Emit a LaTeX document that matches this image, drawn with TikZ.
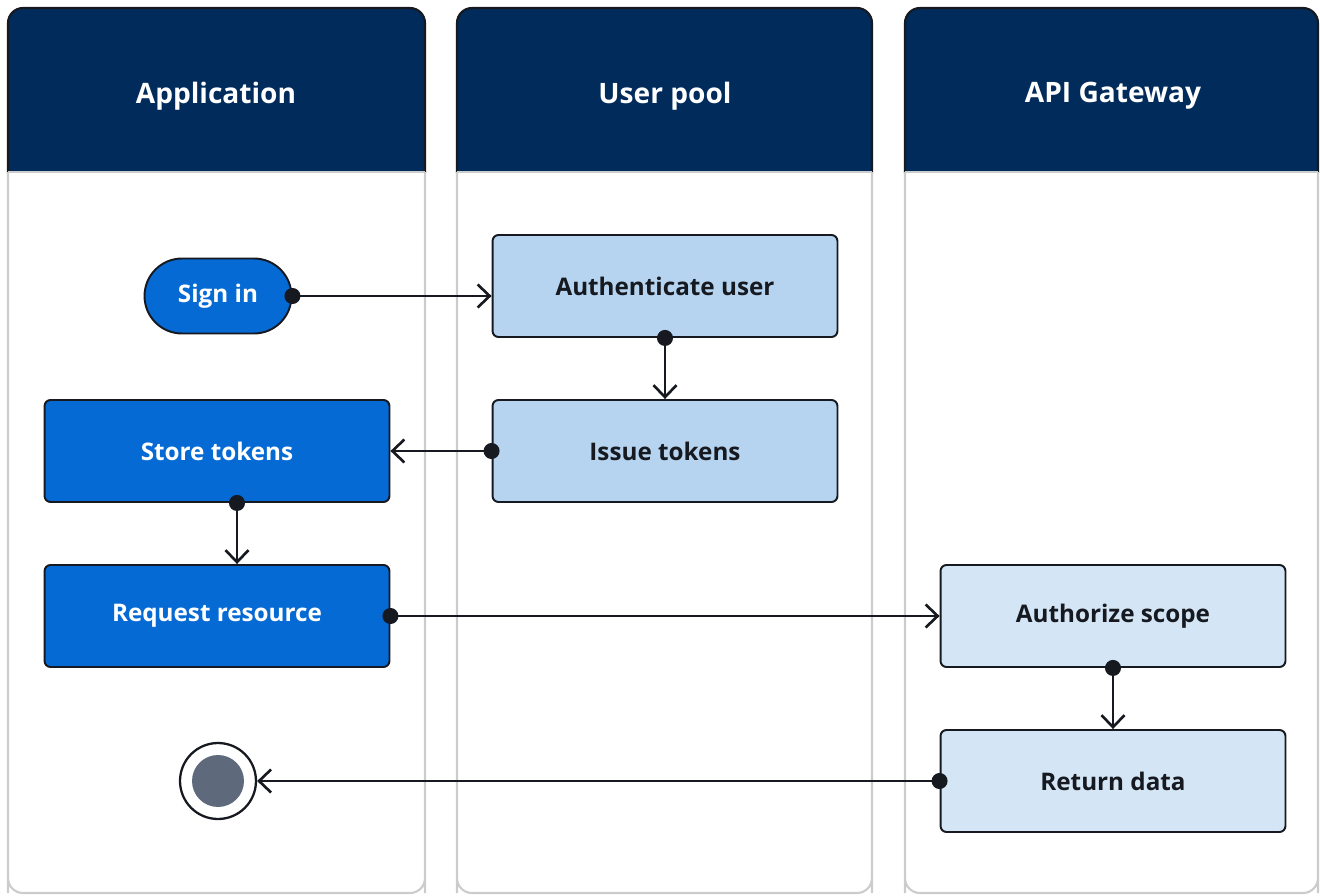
\documentclass[tikz,border=0pt]{standalone}
\usepackage{fontspec}
\setmainfont{Open Sans}
\usepackage{tikz}
\usetikzlibrary{arrows.meta,positioning}

\definecolor{navy}{RGB}{0,43,91}
\definecolor{appblue}{RGB}{6,106,212}
\definecolor{poolblue}{RGB}{182,212,240}
\definecolor{apiblue}{RGB}{212,230,245}
\definecolor{lanegray}{RGB}{204,204,204}
\definecolor{endgray}{RGB}{94,106,124}
\definecolor{ink}{RGB}{22,25,31}

\begin{document}
\begin{tikzpicture}[
  x=0.02cm, y=-0.02cm,
  lane/.style={draw=lanegray, line width=1.2pt, rounded corners=0.3cm},
  head/.style={font=\fontsize{16}{19}\selectfont\bfseries, text=white},
  act/.style={draw=ink, line width=1.1pt, rounded corners=0.12cm, minimum width=6.9cm, minimum height=2.04cm, font=\fontsize{13.8}{16}\selectfont\bfseries},
  app/.style={act, fill=appblue, text=white},
  pool/.style={act, fill=poolblue, text=ink},
  api/.style={act, fill=apiblue, text=ink},
  arr/.style={draw=ink, line width=1.5pt, {Circle[length=0.32cm]}-{Straight Barb[length=0.24cm, width=0.46cm]}, shorten <=-0.16cm}
]
\useasboundingbox (0,0) rectangle (1320,896);

% swimlanes
\foreach \xa/\xb in {8/425, 457/872, 905/1318} {
  \begin{scope}
    \clip (0,0) rectangle (1320,172);
    \draw[fill=navy, draw=ink, line width=1.2pt, rounded corners=0.3cm] (\xa,8) rectangle (\xb,893);
  \end{scope}
  \draw[lane] (\xa,172) -- (\xa,878) [rounded corners=0.3cm] -- (\xa,893) -- (\xb,893) -- (\xb,878) [sharp corners] -- (\xb,172);
  \draw[lanegray, line width=1.2pt] (\xa,172) -- (\xb,172);
}
\node[head] (happ) at (216,96) {Application};
\node[head] (hpool) at (665,96) {User pool};
\node[head] (hapi) at (1113,96) {API Gateway};

% activities
\node[app, minimum width=2.94cm, minimum height=1.5cm, rounded corners=0.75cm] (signin) at (218,296) {Sign in};
\node[pool] (auth) at (665,286) {Authenticate user};
\node[pool] (issue) at (665,451) {Issue tokens};
\node[app] (store) at (217,451) {Store tokens};
\node[app] (req) at (217,616) {Request resource};
\node[api] (authz) at (1113,616) {Authorize scope};
\node[api] (ret) at (1113,781) {Return data};

% final state
\node[circle, draw=ink, line width=1.3pt, fill=white, minimum size=1.52cm, inner sep=0pt] (done) at (218,781) {};
\node[circle, fill=endgray, minimum size=1.04cm, inner sep=0pt] (donein) at (done.center) {};

\draw[arr] (signin.east) -- (signin.east -| auth.west);
\draw[arr] (auth.south) -- (issue.north);
\draw[arr] (issue.west) -- (store.east);
\draw[arr] ([xshift=0.4cm]store.south) -- ([xshift=0.4cm]req.north);
\draw[arr] (req.east) -- (authz.west);
\draw[arr] (authz.south) -- (ret.north);
\draw[arr] (ret.west) -- (done.east);
\end{tikzpicture}
\end{document}
